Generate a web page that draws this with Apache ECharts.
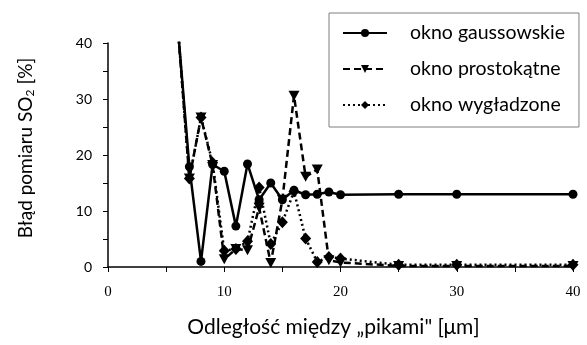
<!DOCTYPE html>
<html>
<head>
<meta charset="utf-8">
<script src="https://cdn.jsdelivr.net/npm/echarts@6/dist/echarts.min.js"></script>
<style>html,body{margin:0;padding:0;background:#fff}#c{width:587px;height:345px}</style>
</head>
<body>
<div id="c"></div>
<script>
var xValues = [6, 7, 8, 9, 10, 11, 12, 13, 14, 15, 16, 17, 18, 19, 20, 25, 30, 40];
var gaussowskie = [43, 17.9, 1.0, 18.3, 17.1, 7.3, 18.4, 12.0, 15.0, 12.0, 13.7, 12.9, 13.0, 13.4, 12.9, 13.0, 13.0, 13.0];
var prostokatne = [43, 15.8, 26.7, 18.2, 1.4, 3.2, 3.0, 10.6, 0.7, 12.0, 30.6, 16.1, 17.4, 1.2, 0.8, 0.2, 0.2, 0.2];
var wygladzone = [43, 15.8, 26.7, 18.6, 2.9, 3.2, 4.6, 14.2, 4.1, 8.0, 13.5, 5.1, 0.9, 1.8, 1.5, 0.4, 0.4, 0.4];
var seriesNames = ['okno gaussowskie', 'okno prostokątne', 'okno wygładzone'];
var xTicks = [0, 10, 20, 30, 40];
var yTicks = [0, 10, 20, 30, 40];

function pairs(ys) { return xValues.map(function (x, i) { return [x, ys[i]]; }); }

var chart = echarts.init(document.getElementById('c'), null, { renderer: 'canvas' });
var sansFont = 'Lato, "Open Sans", sans-serif';
chart.setOption({
  animation: false,
  backgroundColor: '#fff',
  grid: { left: 108, right: 14, top: 43, bottom: 78, containLabel: false },
  legend: {
    orient: 'vertical',
    left: 329, top: 13,
    padding: [10, 14, 12, 13],
    borderColor: '#7f7f7f', borderWidth: 1,
    itemWidth: 44, itemHeight: 10, itemGap: 16,
    textStyle: { fontFamily: sansFont, fontSize: 19.5, color: '#000', padding: [0, 0, 0, 18] },
    data: seriesNames
  },
  xAxis: {
    type: 'value', min: 0, max: 40, interval: 5,
    name: 'Odległość między „pikami" [μm]',
    nameLocation: 'middle', nameGap: 50,
    nameTextStyle: { fontFamily: sansFont, fontSize: 21, color: '#000', padding: [0, 14, 0, 0] },
    axisLine: { lineStyle: { color: '#000', width: 1.5 } },
    axisTick: { show: true, length: 5, lineStyle: { color: '#000' } },
    axisLabel: {
      margin: 18, color: '#000', fontFamily: '"Liberation Serif", "DejaVu Serif", serif', fontSize: 15,
      formatter: function (v) { return xTicks.indexOf(v) >= 0 ? String(v) : ''; }
    },
    splitLine: { show: false }
  },
  yAxis: {
    type: 'value', min: 0, max: 40, interval: 5,
    name: 'Błąd pomiaru SO{sub|2} [%]',
    nameLocation: 'middle', nameGap: 72, nameRotate: 90,
    nameTextStyle: {
      fontFamily: sansFont, fontSize: 19, color: '#000', padding: [0, 0, 0, 14],
      rich: { sub: { fontFamily: sansFont, fontSize: 12, color: '#000', verticalAlign: 'bottom', padding: [9, 0, 0, 0] } }
    },
    axisLine: { show: true, lineStyle: { color: '#000', width: 1.5 } },
    axisTick: { show: true, length: 5, lineStyle: { color: '#000' } },
    axisLabel: {
      margin: 16, color: '#000', fontFamily: sansFont, fontSize: 14,
      formatter: function (v) { return yTicks.indexOf(v) >= 0 ? String(v) : ''; }
    },
    splitLine: { show: false }
  },
  series: [
    {
      name: seriesNames[0], type: 'line', data: pairs(gaussowskie),
      symbol: 'circle', symbolSize: 9, clip: true,
      lineStyle: { color: '#000', width: 2.5, type: 'solid' },
      itemStyle: { color: '#000' }
    },
    {
      name: seriesNames[1], type: 'line', data: pairs(prostokatne),
      symbol: 'triangle', symbolRotate: 180, symbolSize: [11, 10], clip: true,
      lineStyle: { color: '#000', width: 2.5, type: [7, 4] },
      itemStyle: { color: '#000' }
    },
    {
      name: seriesNames[2], type: 'line', data: pairs(wygladzone),
      symbol: 'diamond', symbolSize: [11, 12], clip: true,
      lineStyle: { color: '#000', width: 2.5, type: [2, 3] },
      itemStyle: { color: '#000' }
    }
  ]
});
</script>
</body>
</html>
